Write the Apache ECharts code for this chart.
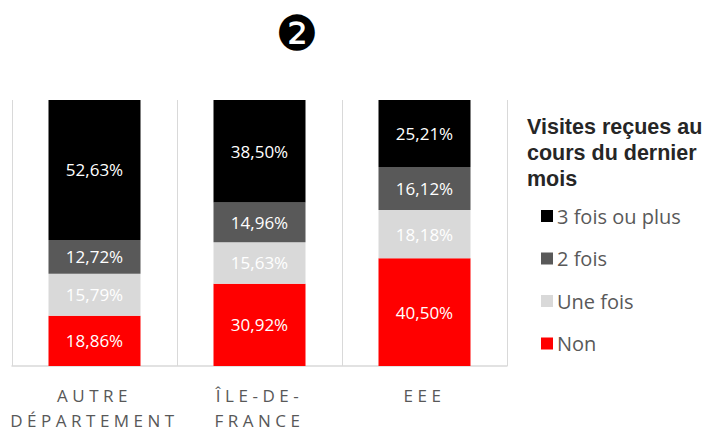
<!DOCTYPE html>
<html>
<head>
<meta charset="utf-8">
<script src="https://cdn.jsdelivr.net/npm/echarts@6/dist/echarts.min.js"></script>
<style>
  html, body { margin: 0; padding: 0; background: #fff; }
  #main { width: 707px; height: 433px; }
  /* spaced capitals for the category labels */
  #main text[fill="#585858"] { letter-spacing: 4.5px; }
</style>
</head>
<body>
<div id="main"></div>
<script>
// categories (bottom axis)
var categories = ['AUTRE\nDÉPARTEMENT', 'ÎLE-DE-\nFRANCE', 'EEE'];

// series values, in %
var non      = [18.86, 30.92, 40.50];
var uneFois  = [15.79, 15.63, 18.18];
var deuxFois = [12.72, 14.96, 16.12];
var troisPlus = [52.63, 38.50, 25.21];

var legendNames = ['3 fois ou plus', '2 fois', 'Une fois', 'Non'];

var myChart = echarts.init(document.getElementById('main'), null, {renderer: 'svg'});

function pct(p) {
    return p.value.toFixed(2).replace('.', ',') + '%';
}

function barSerie(name, data, color) {
    return {
        name: name,
        type: 'bar',
        stack: 'total',
        barWidth: 92,
        data: data,
        itemStyle: { color: color },
        label: {
            show: true,
            position: 'inside',
            color: '#ffffff',
            fontFamily: 'Open Sans',
            fontSize: 17,
            formatter: pct
        }
    };
}

var option = {
    animation: false,
    backgroundColor: '#ffffff',
    title: [{
        text: '❷',
        left: 292,
        top: 4,
        textAlign: 'center',
        textStyle: { fontFamily: 'DejaVu Sans', fontSize: 48, fontWeight: 'normal', color: '#000' }
    }, {
        text: 'Visites reçues au\ncours du dernier\nmois',
        left: 527,
        top: 114,
        padding: 0,
        textStyle: {
            fontFamily: 'Liberation Sans',
            fontSize: 21.5,
            fontWeight: 'bold',
            lineHeight: 26,
            color: '#262626'
        }
    }],
    legend: {
        orient: 'vertical',
        left: 541,
        top: 202,
        padding: 0,
        itemWidth: 12,
        itemHeight: 12,
        itemGap: 14.5,
        icon: 'rect',
        data: legendNames,
        textStyle: {
            fontFamily: 'Open Sans',
            fontSize: 20,
            color: '#595959',
            lineHeight: 28,
            padding: [0, 0, 0, -1]
        }
    },
    grid: { left: 12, right: 200, top: 100, bottom: 65 },
    xAxis: {
        type: 'category',
        data: categories,
        axisLine: { lineStyle: { color: '#d9d9d9', width: 1.5 } },
        axisTick: { show: false },
        splitLine: { show: true, lineStyle: { color: '#d9d9d9', width: 1 } },
        axisLabel: {
            margin: 17,
            color: '#585858',
            fontFamily: 'Open Sans',
            fontSize: 17,
            lineHeight: 25
        }
    },
    yAxis: {
        type: 'value',
        min: 0,
        max: 100,
        show: false
    },
    series: [
        barSerie('Non', non, '#ff0000'),
        barSerie('Une fois', uneFois, '#d9d9d9'),
        barSerie('2 fois', deuxFois, '#595959'),
        barSerie('3 fois ou plus', troisPlus, '#000000')
    ]
};

myChart.setOption(option);
</script>
</body>
</html>
